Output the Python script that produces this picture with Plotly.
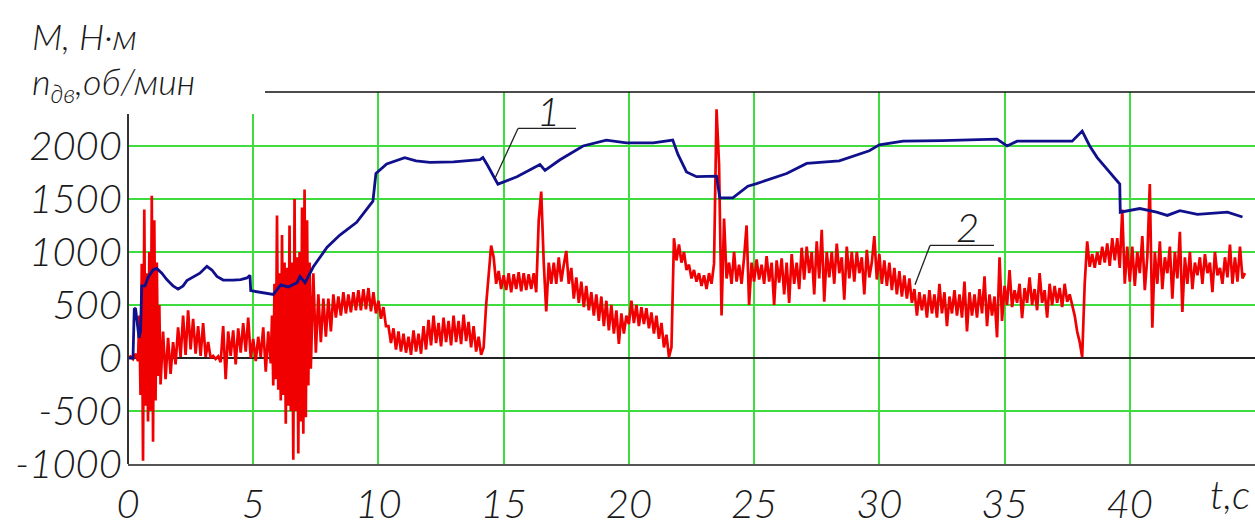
import plotly.graph_objects as go

# ---- Curve 1: motor speed n (blue) ----
n_t = [0, 0.2, 0.25, 0.3, 0.44, 0.5, 0.55, 0.68, 0.8, 1.0, 1.15, 1.35, 1.55, 1.8, 2.0, 2.2, 2.35,
       2.6, 2.87, 3.15, 3.35, 3.55, 3.8, 4.2, 4.5, 4.75, 4.87, 4.9, 5.27, 5.8, 6.1, 6.4, 6.75, 6.87,
       7.07, 7.4, 7.95, 8.46, 9.13, 9.78, 9.9, 10.33, 11.05, 11.5, 12.05, 13.0, 14.05, 14.17, 14.35,
       14.77, 15.53, 16.45, 16.65, 17.25, 18.17, 19.1, 19.9, 20.97, 21.75, 21.96, 22.3, 22.7, 23.5,
       23.63, 24.15, 24.75, 25.1, 26.3, 27.1, 28.4, 29.6, 30.0, 30.95, 32.5, 34.7, 35.1, 35.5, 37.7,
       38.1, 38.4, 38.7, 39.6, 39.62, 40.4, 41.07, 41.5, 42.0, 42.7, 43.9, 44.5]
n_v = [0, 0, 460, 470, 190, 250, 680, 680, 760, 830, 845, 800, 740, 680, 650, 680, 730,
       760, 800, 865, 830, 770, 735, 735, 740, 755, 780, 635, 620, 600, 690, 670, 710, 770,
       710, 860, 1045, 1160, 1280, 1480, 1740, 1830, 1890, 1860, 1845, 1850, 1870, 1890, 1820,
       1640, 1710, 1825, 1770, 1870, 2000, 2055, 2030, 2030, 2055, 1920, 1755, 1710, 1715,
       1510, 1510, 1620, 1645, 1740, 1835, 1860, 1955, 2010, 2045, 2050, 2065, 2000, 2045, 2045,
       2140, 2000, 1890, 1640, 1375, 1410, 1375, 1345, 1390, 1355, 1375, 1330]

# ---- Curve 2: motor torque M (red) ----
M_t = [0.0, 0.1, 0.2, 0.3, 0.4,
       0.45, 0.5, 0.55, 0.6, 0.65, 0.7, 0.75, 0.8, 0.85, 0.9, 0.95, 1.0, 1.05, 1.1, 1.15, 1.2, 1.25,
       1.3, 1.4, 1.5, 1.6, 1.7, 1.8, 1.9,
       2.0, 2.1, 2.2, 2.3, 2.4, 2.5, 2.6, 2.7, 2.8, 2.9,
       3.0, 3.1, 3.2, 3.3, 3.4, 3.5, 3.6, 3.7, 3.8, 3.9,
       4.0, 4.1, 4.2, 4.3, 4.4, 4.5, 4.6, 4.7, 4.8, 4.9,
       5.0, 5.1, 5.2, 5.3, 5.4, 5.5, 5.6,
       5.7, 5.75, 5.8, 5.85, 5.9, 5.95, 6.0, 6.05, 6.1, 6.15, 6.2, 6.25, 6.3, 6.35, 6.4, 6.45, 6.5,
       6.55, 6.6, 6.65, 6.7, 6.75, 6.8, 6.85, 6.9, 6.95, 7.0, 7.05, 7.1, 7.15, 7.2, 7.25, 7.3, 7.35,
       7.4, 7.5, 7.6, 7.7, 7.8, 7.9,
       8.0, 8.1, 8.2, 8.3, 8.4, 8.5, 8.6, 8.7, 8.8, 8.9,
       9.0, 9.1, 9.2, 9.3, 9.4, 9.5, 9.6, 9.7, 9.8, 9.9,
       10.0, 10.1, 10.2, 10.3, 10.4, 10.5, 10.6, 10.7, 10.8, 10.9,
       11.0, 11.1, 11.2, 11.3, 11.4, 11.5, 11.6, 11.7, 11.8, 11.9,
       12.0, 12.1, 12.2, 12.3, 12.4, 12.5, 12.6, 12.7, 12.8, 12.9,
       13.0, 13.1, 13.2, 13.3, 13.4, 13.5, 13.6, 13.7, 13.8, 13.9,
       14.0, 14.1, 14.2, 14.3, 14.4, 14.5, 14.6, 14.7, 14.8, 14.9,
       15.0, 15.1, 15.2, 15.3, 15.4, 15.5, 15.6, 15.7, 15.8, 15.9,
       16.0, 16.1, 16.2, 16.3, 16.4, 16.5, 16.6, 16.7, 16.8, 16.9,
       17.0, 17.1, 17.2, 17.3, 17.4, 17.5, 17.6, 17.7, 17.8, 17.9,
       18.0, 18.1, 18.2, 18.3, 18.4, 18.5, 18.6, 18.7, 18.8, 18.9,
       19.0, 19.1, 19.2, 19.3, 19.4, 19.5, 19.6, 19.7, 19.8, 19.9,
       20.0, 20.1, 20.2, 20.3, 20.4, 20.5, 20.6, 20.7, 20.8, 20.9,
       21.0, 21.1, 21.2, 21.3, 21.4, 21.5, 21.6, 21.7, 21.8, 21.9,
       22.0, 22.1, 22.2, 22.3, 22.4, 22.5, 22.6, 22.7, 22.8, 22.9,
       23.0, 23.1, 23.2, 23.3, 23.4, 23.5, 23.6, 23.7, 23.8, 23.9,
       24.0, 24.1, 24.2, 24.3, 24.4, 24.5, 24.6, 24.7, 24.8, 24.9,
       25.0, 25.1, 25.2, 25.3, 25.4, 25.5, 25.6, 25.7, 25.8, 25.9,
       26.0, 26.1, 26.2, 26.3, 26.4, 26.5, 26.6, 26.7, 26.8, 26.9,
       27.0, 27.1, 27.2, 27.3, 27.4, 27.5, 27.6, 27.7, 27.8, 27.9,
       28.0, 28.1, 28.2, 28.3, 28.4, 28.5, 28.6, 28.7, 28.8, 28.9,
       29.0, 29.1, 29.2, 29.3, 29.4, 29.5, 29.6, 29.7, 29.8, 29.9,
       30.0, 30.1, 30.2, 30.3, 30.4, 30.5, 30.6, 30.7, 30.8, 30.9,
       31.0, 31.1, 31.2, 31.3, 31.4, 31.5, 31.6, 31.7, 31.8, 31.9,
       32.0, 32.1, 32.2, 32.3, 32.4, 32.5, 32.6, 32.7, 32.8, 32.9,
       33.0, 33.1, 33.2, 33.3, 33.4, 33.5, 33.6, 33.7, 33.8, 33.9,
       34.0, 34.1, 34.2, 34.3, 34.4, 34.5, 34.6, 34.7, 34.8, 34.9,
       35.0, 35.1, 35.2, 35.3, 35.4, 35.5, 35.6, 35.7, 35.8, 35.9,
       36.0, 36.1, 36.2, 36.3, 36.4, 36.5, 36.6, 36.7, 36.8, 36.9,
       37.0, 37.1, 37.2, 37.3, 37.4, 37.5, 37.6, 37.7, 37.8, 37.9,
       38.0, 38.1, 38.2, 38.3, 38.4, 38.5, 38.6, 38.7, 38.8, 38.9,
       39.0, 39.1, 39.2, 39.3, 39.4, 39.5, 39.6, 39.7, 39.8, 39.9,
       40.0, 40.1, 40.2, 40.3, 40.4, 40.5, 40.6, 40.7, 40.8, 40.9,
       41.0, 41.1, 41.2, 41.3, 41.4, 41.5, 41.6, 41.7, 41.8, 41.9,
       42.0, 42.1, 42.2, 42.3, 42.4, 42.5, 42.6, 42.7, 42.8, 42.9,
       43.0, 43.1, 43.2, 43.3, 43.4, 43.5, 43.6, 43.7, 43.8, 43.9,
       44.0, 44.1, 44.2, 44.3, 44.4, 44.5, 44.6]
M_v = [0, 15, -10, 40, -30,
       400, -350, 890, -970, 1400, -450, 800, -600, 1000, -500, 1530, -790, 1300, -400, 900, -170, 500,
       -250, 250, -200, 190, -150, 150, -60,
       290, 10, 400, 30, 450, 80, 370, 40, 300, 20,
       330, 10, 150, 0, 20, -10, 15, -40, 300, -200,
       250, 20, 260, -60, 280, 50, 330, 60, 380, 0,
       180, -30, 200, 10, 290, -130, 250,
       -50, 400, -260, 700, -200, 1345, -300, 800, -400, 1160, -350, 900, -620, 850, -450, 1250, -500,
       900, -960, 1500, -500, 950, -900, 1000, -600, 1420, -715, 1590, -560, 1300, -260, 900, -100, 500,
       800, 50, 600, 150, 560, 200,
       560, 250, 600, 380, 580, 400, 620, 420, 600, 430,
       620, 450, 640, 450, 650, 460, 660, 440, 620, 420,
       540, 370, 480, 300, 300, 140, 280, 80, 250, 60,
       230, 50, 200, 30, 260, 60, 230, 40, 300, 80,
       360, 120, 400, 140, 330, 110, 380, 150, 350, 120,
       400, 150, 350, 130, 410, 160, 340, 100, 300, 60,
       200, 30, 100, 500, 800, 1060, 950, 700, 820, 650,
       780, 640, 800, 620, 790, 650, 810, 630, 800, 640,
       790, 650, 800, 620, 1300, 1570, 900, 440, 900, 700,
       900, 700, 950, 720, 880, 1010, 700, 850, 560, 760,
       520, 720, 480, 680, 450, 620, 400, 600, 350, 580,
       300, 540, 260, 500, 230, 450, 133, 420, 230, 400,
       320, 540, 330, 500, 300, 480, 320, 470, 280, 430,
       230, 400, 180, 330, 100, 220, 10, 100, 1130, 920,
       1070, 900, 1000, 830, 880, 750, 830, 720, 800, 680,
       780, 650, 800, 700, 890, 2345, 1830, 400, 1315, 750,
       900, 700, 1000, 720, 880, 700, 950, 1250, 500, 900,
       720, 930, 740, 880, 700, 960, 720, 900, 500, 920,
       710, 940, 600, 900, 520, 980, 700, 900, 650, 1040,
       740, 1050, 800, 1000, 600, 1100, 750, 1210, 530, 1000,
       760, 1000, 700, 1080, 800, 950, 550, 1050, 750, 1000,
       720, 1000, 800, 950, 600, 1020, 760, 900, 1150, 740,
       980, 700, 920, 680, 900, 640, 850, 600, 820, 580,
       780, 560, 750, 520, 650, 400, 620, 450, 600, 380,
       640, 420, 600, 380, 700, 420, 620, 300, 580, 420,
       640, 400, 600, 380, 720, 250, 620, 400, 600, 380,
       650, 420, 770, 300, 600, 400, 580, 195, 950, 350,
       680, 500, 830, 480, 640, 520, 700, 375, 660, 520,
       760, 500, 650, 450, 800, 520, 640, 380, 700, 500,
       680, 520, 660, 480, 700, 530, 600, 500, 400, 250,
       150, 10, 700, 1100, 860, 980, 850, 1000, 880, 1050,
       900, 1080, 870, 1130, 920, 1130, 850, 1400, 700, 1050,
       720, 1050, 680, 1000, 800, 1150, 640, 950, 1640, 285,
       1000, 700, 1100, 650, 950, 800, 1050, 560, 1000, 750,
       1190, 435, 950, 700, 1000, 650, 900, 780, 950, 700,
       980, 800, 900, 620, 1000, 780, 850, 700, 950, 760,
       1070, 700, 950, 720, 1050, 750, 800]

x_ticks = [0, 5, 10, 15, 20, 25, 30, 35, 40]
x_labels = ["0", "5", "10", "15", "20", "25", "30", "35", "40"]
y_ticks = [-1000, -500, 0, 500, 1000, 1500, 2000]
y_labels = ["-1000", "-500", "0", "500", "1000", "1500", "2000"]

assert len(M_t) == len(M_v) and len(n_t) == len(n_v)

W, H = 1255, 527
L, R, T, B = 128, 0, 92, 47
PW, PH = W - L - R, H - T - B
X_RANGE = [0, 45]
Y_RANGE = [-1000, 2509]


def px(xp):
    return (xp - L) / PW


def py(yp):
    return (H - B - yp) / PH


FONT = "Lato"
GRID = "#3fdc3f"
tickfont = dict(family=FONT, size=40, color="#1a1a1a", style="italic", weight=300)

fig = go.Figure()
fig.add_trace(go.Scatter(x=M_t, y=M_v, mode="lines",
                         line=dict(color="#f00000", width=2.7), hoverinfo="skip"))
fig.add_trace(go.Scatter(x=n_t, y=n_v, mode="lines",
                         line=dict(color="#10108c", width=2.8), hoverinfo="skip"))

fig.update_layout(
    width=W, height=H, margin=dict(l=L, r=R, t=T, b=B, pad=0),
    paper_bgcolor="white", plot_bgcolor="white", showlegend=False,
    xaxis=dict(range=X_RANGE, tickvals=x_ticks, ticktext=["<i>%s</i>" % s for s in x_labels],
               showgrid=True, gridcolor=GRID, gridwidth=1.5, zeroline=False, showline=True,
               linecolor="#555555", linewidth=2, ticks="", tickfont=tickfont,
               ticklabelstandoff=4),
    yaxis=dict(range=Y_RANGE, tickvals=y_ticks, ticktext=["<i>%s</i>" % s for s in y_labels],
               showgrid=True, gridcolor=GRID, gridwidth=1.5, zeroline=True,
               zerolinecolor="#222222", zerolinewidth=1.5, showline=False, ticks="",
               tickfont=tickfont, ticklabelstandoff=5),
)

# blank the top-left corner under the axis title, then axis lines
fig.add_shape(type="rect", xref="paper", yref="paper", x0=px(L - 2), x1=px(265),
              y0=py(115), y1=1.01, fillcolor="white", line=dict(width=0), layer="above")
fig.add_shape(type="line", xref="paper", yref="paper", x0=0, x1=0, y0=0, y1=py(115),
              line=dict(color="#333333", width=2), layer="above")
fig.add_shape(type="line", xref="paper", yref="paper", x0=px(265), x1=1, y0=1, y1=1,
              line=dict(color="#111111", width=1.5), layer="above")

# leader lines for curve labels
lead = dict(color="#222222", width=1.3)
fig.add_shape(type="line", xref="paper", yref="paper", x0=px(518), x1=px(576), y0=py(130), y1=py(130), line=lead)
fig.add_shape(type="line", xref="paper", yref="paper", x0=px(518), x1=px(495), y0=py(130), y1=py(182), line=lead)
fig.add_shape(type="line", xref="paper", yref="paper", x0=px(930), x1=px(994), y0=py(252), y1=py(252), line=lead)
fig.add_shape(type="line", xref="paper", yref="paper", x0=px(930), x1=px(915), y0=py(252), y1=py(293), line=lead)

lbl = dict(family=FONT, color="#1a1a1a", style="italic", weight=300)
fig.add_annotation(xref="paper", yref="paper", x=px(548), y=py(112), text="1", showarrow=False,
                   font=dict(size=40, **lbl), xanchor="center", yanchor="middle")
fig.add_annotation(xref="paper", yref="paper", x=px(967), y=py(233), text="2", showarrow=False,
                   font=dict(size=40, **lbl), xanchor="center", yanchor="middle")
fig.add_annotation(xref="paper", yref="paper", x=px(30), y=py(34), text="M, Н·м", showarrow=False,
                   font=dict(size=36, **lbl), xanchor="left", yanchor="middle")
fig.add_annotation(xref="paper", yref="paper", x=px(30), y=py(83),
                   text="n<sub>дв</sub>,об/мин", showarrow=False,
                   font=dict(size=36, **lbl), xanchor="left", yanchor="middle")
fig.add_annotation(xref="paper", yref="paper", x=px(1230), y=py(511), text="t,c", showarrow=False,
                   font=dict(size=40, **lbl), xanchor="center", yanchor="middle")

fig.write_html("out.html")
